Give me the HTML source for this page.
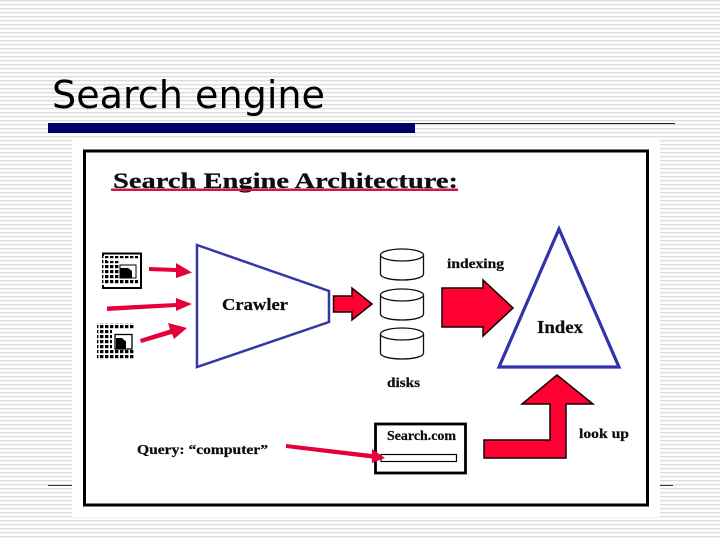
<!DOCTYPE html>
<html><head><meta charset="utf-8"><style>
html,body{margin:0;padding:0}
body{width:720px;height:540px;overflow:hidden;background:#fff}
svg{display:block}
.s{font-family:"Liberation Serif",serif;font-weight:bold;fill:#111;stroke:#111;stroke-width:.25}
</style></head><body>
<svg width="720" height="540" viewBox="0 0 720 540" xmlns="http://www.w3.org/2000/svg">
<defs>
<pattern id="st" width="4" height="4" patternUnits="userSpaceOnUse"><rect width="4" height="4" fill="#fdfdfd"/><rect width="4" height="1.300" fill="#dcdcdc"/></pattern>
<pattern id="dots" width="5" height="5" patternUnits="userSpaceOnUse"><rect width="5" height="5" fill="#fff"/><rect width="3.400" height="3.200" fill="#000"/></pattern>
<filter id="b" x="-5%" y="-5%" width="110%" height="110%"><feGaussianBlur stdDeviation="0.25"/></filter>
</defs>
<rect width="720" height="540" fill="url(#st)"/>
<text x="52" y="108" font-family="DejaVu Sans, sans-serif" font-size="38" textLength="273" lengthAdjust="spacingAndGlyphs" fill="#000">Search engine</text>
<rect x="48" y="123" width="627" height="1" fill="#222"/>
<rect x="48" y="123" width="367" height="10" fill="#000066"/>
<rect x="48" y="485" width="24" height="1" fill="#333"/>
<rect x="660" y="485" width="13" height="1" fill="#333"/>
<rect x="72" y="139" width="588" height="378" fill="#fff"/>
<rect x="84.500" y="151" width="563" height="354" fill="#fff" stroke="#000" stroke-width="3"/>
<g filter="url(#b)">
<text class="s" x="113" y="188" font-size="22" textLength="345" lengthAdjust="spacingAndGlyphs">Search Engine Architecture:</text>
<rect x="111" y="188.500" width="347" height="2.500" fill="#d01545"/>

<!-- docs -->
<g>
<rect x="103" y="253.500" width="38" height="34.500" fill="#fff" stroke="#000" stroke-width="2"/>
<rect x="102" y="256" width="5" height="29" fill="url(#dots)"/>
<rect x="105" y="256" width="33" height="4" fill="url(#dots)"/>
<rect x="105" y="261" width="14" height="18" fill="url(#dots)"/>
<rect x="105" y="280" width="33" height="4" fill="url(#dots)"/>
<rect x="120" y="265" width="16" height="13" fill="#fff" stroke="#000"/>
<path d="M120 268h8l4 3v7h-12z" fill="#000"/>
</g>
<g>
<rect x="97" y="323" width="38" height="36" fill="#fff"/>
<rect x="97" y="323" width="38" height="6" fill="url(#dots)"/>
<rect x="97" y="329" width="15" height="25" fill="url(#dots)"/>
<rect x="97" y="350" width="38" height="9" fill="url(#dots)"/>
<rect x="115" y="334.500" width="17" height="14.500" fill="#fff" stroke="#000" stroke-width="1.300"/>
<path d="M116 338h6l4 3.500v7.500h-10z" fill="#000"/>
</g>

<!-- thin red arrows -->
<g fill="#e6003a">
<polygon points="149,267 176,268 176,263 192,272.500 176,278 176,272 149,271"/>
<polygon points="107,306.500 176,303 176,298 192,304 176,311 176,307 107,311"/>
<polygon points="140,339 170,329.500 168,323 187,328 174,339 172,334 141,343"/>
<polygon points="286,444 372,454 372,449 385,458 372,463 372,458.500 286,448"/>
</g>

<!-- crawler -->
<polygon points="197,245 329,291 329,322 197,367" fill="#fff" stroke="#3535a8" stroke-width="2.500"/>
<text class="s" x="222" y="310" font-size="17" textLength="66" lengthAdjust="spacingAndGlyphs">Crawler</text>

<!-- red block arrows -->
<g fill="#ff0033" stroke="#100" stroke-width="1.500">
<polygon points="333.500,296 352,296 352,288 372,304 352,320 352,312 333.500,312"/>
<polygon points="442,288 483,288 483,280 513,308 483,336 483,327 442,327"/>
<polygon points="557,375 593,404 566,404 566,458 484,458 484,440 550,440 550,404 522,404"/>
</g>

<!-- disks -->
<g fill="#fff" stroke="#111" stroke-width="1.300">
<path d="M380.500 255v19c0 3.500 9.500 6 21.500 6s21.500-2.500 21.500-6v-19"/><ellipse cx="402" cy="255" rx="21.500" ry="6"/>
<path d="M380.500 295v19c0 3.500 9.500 6 21.500 6s21.500-2.500 21.500-6v-19"/><ellipse cx="402" cy="295" rx="21.500" ry="6"/>
<path d="M380.500 334v19c0 3.500 9.500 6 21.500 6s21.500-2.500 21.500-6v-19"/><ellipse cx="402" cy="334" rx="21.500" ry="6"/>
</g>
<text class="s" x="447" y="268" font-size="13.500" textLength="57" lengthAdjust="spacingAndGlyphs">indexing</text>
<text class="s" x="387" y="387" font-size="13.500" textLength="33" lengthAdjust="spacingAndGlyphs">disks</text>

<!-- index -->
<polygon points="559,229 619,367 499,367" fill="#fff" stroke="#3030ac" stroke-width="3.200"/>
<text class="s" x="537" y="333" font-size="18" textLength="46" lengthAdjust="spacingAndGlyphs">Index</text>

<!-- search box -->
<rect x="375.500" y="424" width="90" height="49" fill="#fff" stroke="#000" stroke-width="2.800"/>
<rect x="381" y="454.500" width="75.500" height="7" fill="#fff" stroke="#000" stroke-width="1.200"/>
<polygon points="372,449 385,458 372,463" fill="#e6003a"/>
<text class="s" x="387" y="440" font-size="13.500" textLength="69" lengthAdjust="spacingAndGlyphs">Search.com</text>
<text class="s" x="579" y="438" font-size="14" textLength="50" lengthAdjust="spacingAndGlyphs">look up</text>
<text class="s" x="137" y="454" font-size="13.500" textLength="131" lengthAdjust="spacingAndGlyphs">Query: “computer”</text>
</g>
</svg>
</body></html>
